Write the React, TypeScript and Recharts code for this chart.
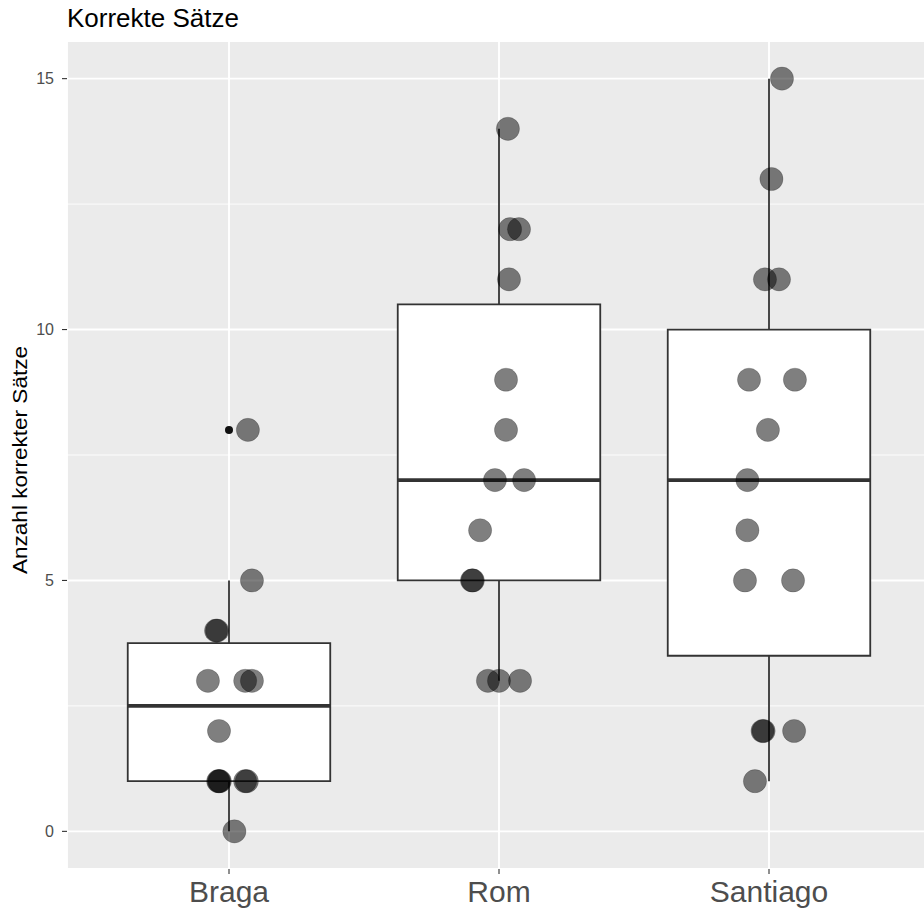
import React from 'react';
import {
  ComposedChart,
  XAxis,
  YAxis,
  CartesianGrid,
  Scatter,
  ReferenceArea,
  ReferenceLine,
} from 'recharts';

// ---- data ----
const categories = ['Braga', 'Rom', 'Santiago'];

// box statistics per category
const lowerWhisker = [0, 3, 1];
const q1 = [1, 5, 3.5];
const median = [2.5, 7, 7];
const q3 = [3.75, 10.5, 10];
const upperWhisker = [5, 14, 15];

// outliers (category index 1-based, value)
const outlierCategory = [1];
const outlierValue = [8];

// raw observations with horizontal jitter (in category units)
const bragaValues = [0, 1, 1, 1, 1, 1, 2, 3, 3, 3, 4, 4, 5, 8];
const bragaJitter = [0.02, -0.04, -0.037, -0.034, 0.06, 0.066, -0.037, -0.078, 0.06, 0.085, -0.048, -0.044, 0.085, 0.07];
const romValues = [3, 3, 3, 5, 5, 6, 7, 7, 8, 9, 11, 12, 12, 14];
const romJitter = [-0.041, 0, 0.078, -0.1, -0.097, -0.07, -0.015, 0.093, 0.026, 0.026, 0.037, 0.041, 0.074, 0.033];
const santiagoValues = [1, 2, 2, 2, 5, 5, 6, 7, 8, 9, 9, 11, 11, 13, 15];
const santiagoJitter = [-0.052, -0.024, -0.02, 0.093, -0.089, 0.089, -0.08, -0.08, -0.004, -0.074, 0.096, -0.015, 0.037, 0.009, 0.048];

const yTicks = [0, 5, 10, 15];
const yMinorGrid = [2.5, 7.5, 12.5];

const groups = [
  { values: bragaValues, jitter: bragaJitter },
  { values: romValues, jitter: romJitter },
  { values: santiagoValues, jitter: santiagoJitter },
];

const pointData = groups.flatMap((g, i) =>
  g.values.map((v, k) => ({ x: i + 1 + g.jitter[k], y: v }))
);
const outlierData = outlierCategory.map((c, k) => ({ x: c, y: outlierValue[k] }));

const BOX_HALF = 0.375;
const LINE = '#333333';

const PointShape = (p: any) => (
  <circle
    cx={p.cx}
    cy={p.cy}
    r={11.6}
    fill="#000"
    fillOpacity={0.5}
    stroke="#000"
    strokeOpacity={0.18}
    strokeWidth={1}
  />
);
const OutlierShape = (p: any) => <circle cx={p.cx} cy={p.cy} r={4} fill="#111" stroke="none" />;

export default function App() {
  const boxes = categories.map((c, i) => (
    <ReferenceArea
      key={'box' + c}
      x1={i + 1 - BOX_HALF}
      x2={i + 1 + BOX_HALF}
      y1={q1[i]}
      y2={q3[i]}
      fill="#ffffff"
      fillOpacity={1}
      stroke={LINE}
      strokeWidth={1.8}
      ifOverflow="visible"
    />
  ));
  const upper = categories.map((c, i) => (
    <ReferenceLine
      key={'up' + c}
      segment={[
        { x: i + 1, y: q3[i] },
        { x: i + 1, y: upperWhisker[i] },
      ]}
      stroke={LINE}
      strokeWidth={1.8}
      ifOverflow="visible"
    />
  ));
  const lower = categories.map((c, i) => (
    <ReferenceLine
      key={'lo' + c}
      segment={[
        { x: i + 1, y: lowerWhisker[i] },
        { x: i + 1, y: q1[i] },
      ]}
      stroke={LINE}
      strokeWidth={1.8}
      ifOverflow="visible"
    />
  ));
  const medians = categories.map((c, i) => (
    <ReferenceLine
      key={'med' + c}
      segment={[
        { x: i + 1 - BOX_HALF, y: median[i] },
        { x: i + 1 + BOX_HALF, y: median[i] },
      ]}
      stroke={LINE}
      strokeWidth={3.6}
      ifOverflow="visible"
    />
  ));

  return (
    <div
      style={{
        position: 'absolute',
        left: 0,
        top: 0,
        width: 924,
        height: 908,
        overflow: 'hidden',
        background: '#ffffff',
        fontFamily: '"Liberation Sans", Arial, sans-serif',
      }}
    >
      <ComposedChart width={940} height={908} margin={{ top: 41, right: 9, bottom: 0, left: 0 }}>
        <CartesianGrid
          fill="#EBEBEB"
          stroke="#ffffff"
          strokeWidth={0.9}
          vertical={false}
          horizontalValues={yMinorGrid}
        />
        <CartesianGrid stroke="#ffffff" strokeWidth={1.9} />
        <XAxis
          dataKey="x"
          type="number"
          domain={[0.4, 3.6]}
          ticks={[1, 2, 3]}
          interval={0}
          allowDataOverflow
          tickFormatter={(v: number) => categories[Math.round(v) - 1]}
          height={39}
          axisLine={false}
          tickLine={{ stroke: LINE, strokeWidth: 1.1 }}
          tickSize={5}
          tickMargin={7}
          tick={{ fill: '#4d4d4d', fontSize: 30 }}
        />
        <YAxis
          dataKey="y"
          type="number"
          domain={[-0.75, 15.75]}
          ticks={yTicks}
          interval={0}
          allowDataOverflow
          width={67}
          axisLine={false}
          tickLine={{ stroke: LINE, strokeWidth: 1.1 }}
          tickSize={5}
          tickMargin={8}
          tick={{ fill: '#4d4d4d', fontSize: 16 }}
        />
        {boxes}
        {upper}
        {lower}
        {medians}
        <Scatter data={outlierData} shape={OutlierShape} isAnimationActive={false} />
        <Scatter data={pointData} shape={PointShape} isAnimationActive={false} />
      </ComposedChart>
      <svg
        width={924}
        height={908}
        style={{ position: 'absolute', left: 0, top: 0, pointerEvents: 'none' }}
      >
        <text x={67} y={27} fontSize={26} fill="#000">
          Korrekte Sätze
        </text>
        <text
          x={27}
          y={460}
          fontSize={20}
          fill="#000"
          textAnchor="middle"
          transform="rotate(-90 27 460)"
          textLength={228}
          lengthAdjust="spacingAndGlyphs"
        >
          Anzahl korrekter Sätze
        </text>
      </svg>
    </div>
  );
}
